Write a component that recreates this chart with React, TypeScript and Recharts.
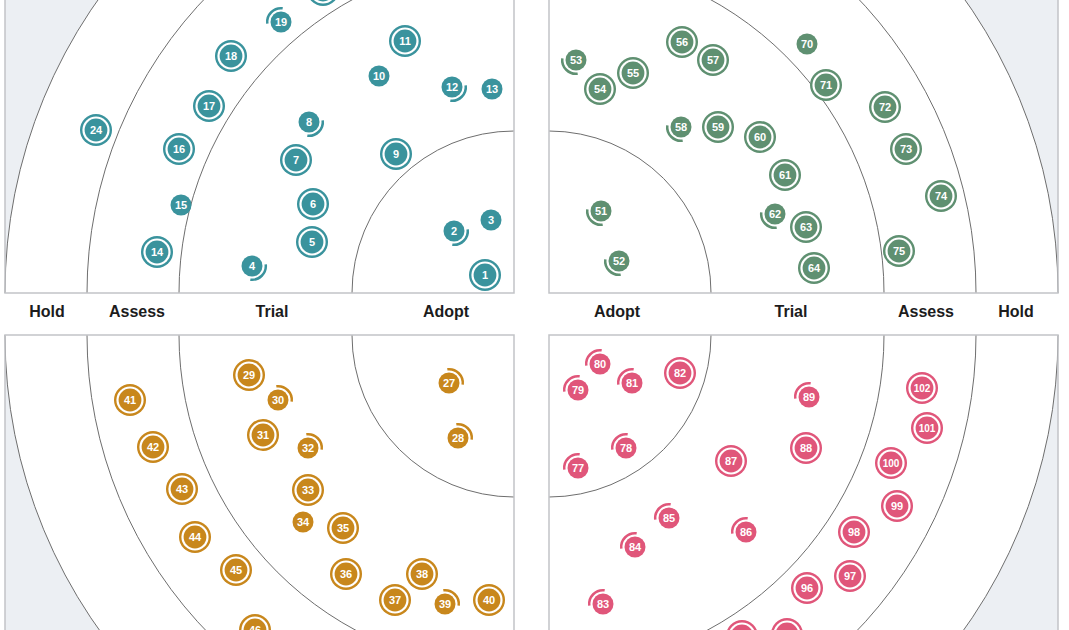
import React from 'react';
import { ScatterChart, Scatter, XAxis, YAxis, ReferenceArea } from 'recharts';

type Status = 'new' | 'in' | 'out' | 'none';
interface Blip { id: number; x: number; y: number; s: Status }

// Rings (innermost first) and their outer radii in radar units
const ringNames = ['Adopt', 'Trial', 'Assess', 'Hold'];
const ringRadii = [162, 335, 427, 509];

// Blips: x = distance from the radar centre along the horizontal edge, y = along the vertical edge
const tealBlips: Blip[] = [
  { id: 1, x: 29, y: 18, s: 'new' },
  { id: 2, x: 60, y: 62, s: 'in' },
  { id: 3, x: 23, y: 73, s: 'none' },
  { id: 4, x: 262, y: 27, s: 'in' },
  { id: 5, x: 202, y: 51, s: 'new' },
  { id: 6, x: 201, y: 89, s: 'new' },
  { id: 7, x: 218, y: 133, s: 'new' },
  { id: 8, x: 205, y: 171, s: 'in' },
  { id: 9, x: 118, y: 139, s: 'new' },
  { id: 10, x: 135, y: 217, s: 'none' },
  { id: 11, x: 109, y: 252, s: 'new' },
  { id: 12, x: 62, y: 206, s: 'in' },
  { id: 13, x: 22, y: 204, s: 'none' },
  { id: 14, x: 357, y: 41, s: 'new' },
  { id: 15, x: 333, y: 88, s: 'none' },
  { id: 16, x: 335, y: 144, s: 'new' },
  { id: 17, x: 305, y: 187, s: 'new' },
  { id: 18, x: 283, y: 237, s: 'new' },
  { id: 19, x: 233, y: 271, s: 'out' },
  { id: 20, x: 191, y: 303, s: 'new' },
  { id: 24, x: 418, y: 163, s: 'new' },
];

const greenBlips: Blip[] = [
  { id: 51, x: 52, y: 82, s: 'in' },
  { id: 52, x: 70, y: 32, s: 'in' },
  { id: 53, x: 27, y: 233, s: 'in' },
  { id: 54, x: 51, y: 204, s: 'new' },
  { id: 55, x: 84, y: 220, s: 'new' },
  { id: 56, x: 133, y: 251, s: 'new' },
  { id: 57, x: 164, y: 233, s: 'new' },
  { id: 58, x: 132, y: 166, s: 'in' },
  { id: 59, x: 169, y: 166, s: 'new' },
  { id: 60, x: 211, y: 156, s: 'new' },
  { id: 61, x: 236, y: 118, s: 'new' },
  { id: 62, x: 226, y: 79, s: 'in' },
  { id: 63, x: 257, y: 66, s: 'new' },
  { id: 64, x: 265, y: 25, s: 'new' },
  { id: 70, x: 258, y: 249, s: 'none' },
  { id: 71, x: 277, y: 208, s: 'new' },
  { id: 72, x: 336, y: 186, s: 'new' },
  { id: 73, x: 357, y: 144, s: 'new' },
  { id: 74, x: 392, y: 97, s: 'new' },
  { id: 75, x: 350, y: 42, s: 'new' },
];

const orangeBlips: Blip[] = [
  { id: 27, x: 65, y: 48, s: 'in' },
  { id: 28, x: 56, y: 103, s: 'in' },
  { id: 29, x: 265, y: 40, s: 'new' },
  { id: 30, x: 236, y: 65, s: 'in' },
  { id: 31, x: 251, y: 100, s: 'new' },
  { id: 32, x: 206, y: 113, s: 'in' },
  { id: 33, x: 206, y: 155, s: 'new' },
  { id: 34, x: 211, y: 187, s: 'none' },
  { id: 35, x: 171, y: 193, s: 'new' },
  { id: 36, x: 168, y: 239, s: 'new' },
  { id: 37, x: 119, y: 265, s: 'new' },
  { id: 38, x: 92, y: 239, s: 'new' },
  { id: 39, x: 69, y: 269, s: 'in' },
  { id: 40, x: 25, y: 265, s: 'new' },
  { id: 41, x: 384, y: 65, s: 'new' },
  { id: 42, x: 361, y: 112, s: 'new' },
  { id: 43, x: 332, y: 154, s: 'new' },
  { id: 44, x: 319, y: 202, s: 'new' },
  { id: 45, x: 278, y: 235, s: 'new' },
  { id: 46, x: 259, y: 295, s: 'new' },
];

const pinkBlips: Blip[] = [
  { id: 77, x: 29, y: 133, s: 'in' },
  { id: 78, x: 77, y: 113, s: 'in' },
  { id: 79, x: 29, y: 55, s: 'in' },
  { id: 80, x: 51, y: 29, s: 'in' },
  { id: 81, x: 83, y: 48, s: 'in' },
  { id: 82, x: 131, y: 38, s: 'new' },
  { id: 83, x: 54, y: 269, s: 'in' },
  { id: 84, x: 86, y: 212, s: 'in' },
  { id: 85, x: 120, y: 183, s: 'in' },
  { id: 86, x: 197, y: 197, s: 'in' },
  { id: 87, x: 182, y: 126, s: 'new' },
  { id: 88, x: 257, y: 113, s: 'new' },
  { id: 89, x: 260, y: 62, s: 'in' },
  { id: 94, x: 193, y: 301, s: 'new' },
  { id: 95, x: 238, y: 299, s: 'new' },
  { id: 96, x: 258, y: 253, s: 'new' },
  { id: 97, x: 301, y: 241, s: 'new' },
  { id: 98, x: 305, y: 197, s: 'new' },
  { id: 99, x: 348, y: 171, s: 'new' },
  { id: 100, x: 342, y: 128, s: 'new' },
  { id: 101, x: 378, y: 93, s: 'new' },
  { id: 102, x: 373, y: 53, s: 'new' },
];

// ---- layout / style ----
const R = ringRadii[ringRadii.length - 1];
const PAD = 1;
const SIZE = R + PAD * 2;
const GAP_X = 35;
const LEFT = 5;
const BAND_TOP = 293;
const BAND_H = 42;
const LABEL_DIST = [68, 242, 377, 467];
const FONT = '"Liberation Sans", Arial, Helvetica, sans-serif';
const OUTSIDE = '#eceff3';
const BORDER = '#c2c4c7';
const RING_LINE = '#6e6e6e';

const quadrants = [
  { key: 'tl', blips: tealBlips, color: '#3a939d', flipX: true, flipY: false, col: 0, row: 0 },
  { key: 'tr', blips: greenBlips, color: '#5f9071', flipX: false, flipY: false, col: 1, row: 0 },
  { key: 'bl', blips: orangeBlips, color: '#c8871c', flipX: true, flipY: true, col: 0, row: 1 },
  { key: 'br', blips: pinkBlips, color: '#e0567a', flipX: false, flipY: true, col: 1, row: 1 },
];

function makeRingShape(flipX: boolean, flipY: boolean) {
  return (p: any) => {
    const { x, y, width, height } = p;
    const sx = flipX ? -1 : 1;
    const sy = flipY ? 1 : -1;
    const cx = flipX ? x + width : x;
    const cy = flipY ? y : y + height;
    const x1 = cx + sx * width;
    const y1 = cy;
    const x2 = cx;
    const y2 = cy + sy * height;
    const sweep = sx * sy > 0 ? 1 : 0;
    const arc = `M${x1},${y1} A${width},${height} 0 0 ${sweep} ${x2},${y2}`;
    return (
      <g>
        <path d={`M${cx},${cy} L${x1},${y1} A${width},${height} 0 0 ${sweep} ${x2},${y2} Z`} fill="#ffffff" stroke="none" />
        <path d={arc} fill="none" stroke={RING_LINE} strokeWidth={1} />
      </g>
    );
  };
}

function makeBlipShape(color: string, flipX: boolean, flipY: boolean) {
  const inward = Math.atan2(flipY ? -1 : 1, flipX ? 1 : -1);
  return (p: any) => {
    const { cx, cy, payload } = p;
    if (cx == null || cy == null) return <g />;
    const b: Blip = payload;
    const label = (
      <text
        x={cx}
        y={cy}
        dy="0.36em"
        textAnchor="middle"
        fill="#ffffff"
        fontFamily={FONT}
        fontWeight={700}
        fontSize={b.id >= 100 ? 10 : 11}
      >
        {b.id}
      </text>
    );
    if (b.s === 'new') {
      return (
        <g>
          <circle cx={cx} cy={cy} r={16} fill={color} />
          <circle cx={cx} cy={cy} r={13.6} fill="#ffffff" />
          <circle cx={cx} cy={cy} r={11.4} fill={color} />
          {label}
        </g>
      );
    }
    if (b.s === 'none') {
      return (
        <g>
          <circle cx={cx} cy={cy} r={10.5} fill={color} />
          {label}
        </g>
      );
    }
    const a = b.s === 'in' ? inward : inward + Math.PI;
    const half = (52 * Math.PI) / 180;
    const rr = 13.8;
    const a1 = a - half;
    const a2 = a + half;
    const d = `M${cx + rr * Math.cos(a1)},${cy + rr * Math.sin(a1)} A${rr},${rr} 0 0 1 ${cx + rr * Math.cos(a2)},${cy + rr * Math.sin(a2)}`;
    return (
      <g>
        <path d={d} fill="none" stroke={color} strokeWidth={2.5} />
        <circle cx={cx} cy={cy} r={10.5} fill={color} />
        {label}
      </g>
    );
  };
}

function Quadrant({ q }: { q: (typeof quadrants)[number] }) {
  const left = LEFT + q.col * (R + GAP_X) - PAD;
  const top = q.row === 0 ? BAND_TOP - R - PAD : BAND_TOP + BAND_H - PAD;
  const ringShape = makeRingShape(q.flipX, q.flipY);
  return (
    <div style={{ position: 'absolute', left, top, width: SIZE, height: SIZE }}>
      <ScatterChart width={SIZE} height={SIZE} margin={{ top: PAD, right: PAD, bottom: PAD, left: PAD }}>
        <XAxis type="number" dataKey="x" domain={[0, R]} reversed={q.flipX} hide allowDataOverflow />
        <YAxis type="number" dataKey="y" domain={[0, R]} reversed={q.flipY} hide allowDataOverflow />
        <ReferenceArea x1={0} x2={R} y1={0} y2={R} fill={OUTSIDE} fillOpacity={1} stroke="none" />
        {[...ringRadii].reverse().map((r) => (
          <ReferenceArea key={r} x1={0} x2={r} y1={0} y2={r} shape={ringShape} />
        ))}
        <ReferenceArea x1={0} x2={R} y1={0} y2={R} fill="none" fillOpacity={0} stroke={BORDER} strokeWidth={1.5} />
        <Scatter
          data={q.blips}
          isAnimationActive={false}
          shape={makeBlipShape(q.color, q.flipX, q.flipY)}
        />
      </ScatterChart>
    </div>
  );
}

export default function App() {
  const leftCenter = LEFT + R;
  const rightCenter = LEFT + R + GAP_X;
  return (
    <div
      style={{
        position: 'absolute',
        left: 0,
        top: 0,
        width: 1069,
        height: 630,
        overflow: 'hidden',
        background: '#ffffff',
      }}
    >
      {quadrants.map((q) => (
        <Quadrant key={q.key} q={q} />
      ))}
      <svg
        width={1069}
        height={BAND_H}
        style={{ position: 'absolute', left: 0, top: BAND_TOP }}
      >
        {ringNames.map((name, i) => (
          <React.Fragment key={name}>
            <text
              x={leftCenter - LABEL_DIST[i]}
              y={BAND_H / 2}
              dy="0.2em"
              textAnchor="middle"
              fontFamily={FONT}
              fontWeight={700}
              fontSize={16}
              fill="#1c1c1c"
            >
              {name}
            </text>
            <text
              x={rightCenter + LABEL_DIST[i]}
              y={BAND_H / 2}
              dy="0.2em"
              textAnchor="middle"
              fontFamily={FONT}
              fontWeight={700}
              fontSize={16}
              fill="#1c1c1c"
            >
              {name}
            </text>
          </React.Fragment>
        ))}
      </svg>
    </div>
  );
}
